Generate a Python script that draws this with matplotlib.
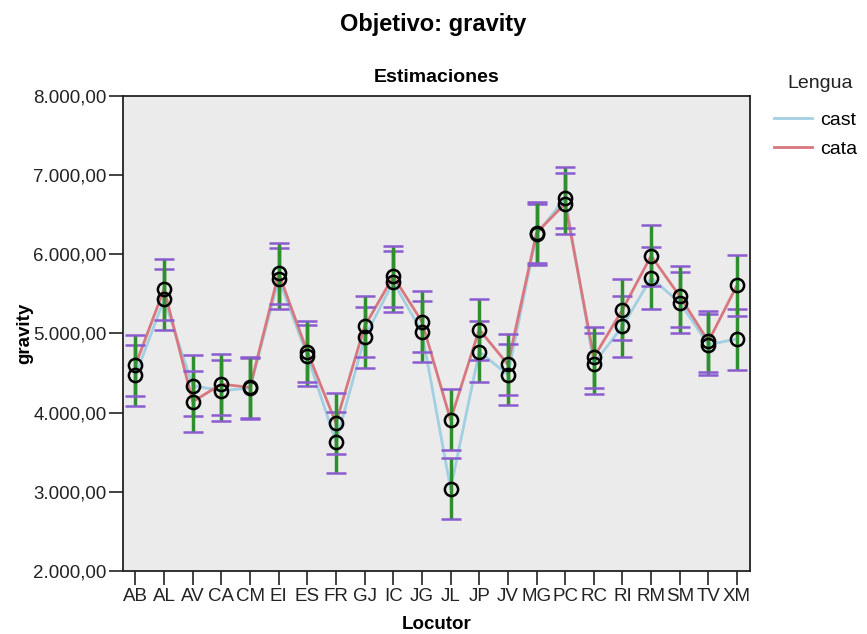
import numpy as np
import matplotlib
matplotlib.use("Agg")
import matplotlib.pyplot as plt
from matplotlib.ticker import FuncFormatter

plt.rcParams['font.family'] = ['Liberation Sans', 'DejaVu Sans']

# medias estimadas por locutor y lengua
locutores = ["AB", "AL", "AV", "CA", "CM", "EI", "ES", "FR", "GJ", "IC", "JG",
             "JL", "JP", "JV", "MG", "PC", "RC", "RI", "RM", "SM", "TV", "XM"]
cast = [4470, 5430, 4340, 4280, 4310, 5690, 4720, 3630, 4950, 5650, 5020,
        3040, 4770, 4480, 6250, 6710, 4620, 5090, 5700, 5390, 4860, 4930]
cata = [4600, 5560, 4140, 4360, 4320, 5760, 4770, 3870, 5090, 5720, 5150,
        3910, 5050, 4610, 6270, 6640, 4700, 5300, 5980, 5470, 4900, 5610]
# semiamplitud del intervalo de confianza
ic_cast = [385] * len(locutores)
ic_cata = [385] * len(locutores)
yticks = [2000, 3000, 4000, 5000, 6000, 7000, 8000]

col_cast = "#a3cfe2"
col_cata = "#d7777e"
col_barra = "#2f8f2f"
col_tope = "#8a5ccf"


def fmt_es(v, pos):
    s = "{:,.2f}".format(v)
    return s.replace(",", "X").replace(".", ",").replace("X", ".")


fig = plt.figure(figsize=(8.67, 6.34), dpi=100)
ax = fig.add_axes([0.142, 0.099, 0.723, 0.750])
ax.set_facecolor("#ebebeb")

x = np.arange(len(locutores))

ax.plot(x, cast, color=col_cast, lw=2, zorder=2, label="cast")
ax.plot(x, cata, color=col_cata, lw=2, zorder=2, label="cata")

for medias, ic in [(cast, ic_cast), (cata, ic_cata)]:
    eb = ax.errorbar(x, medias, yerr=ic, fmt="none", ecolor=col_barra,
                     elinewidth=2.5, capsize=7, capthick=1.8, zorder=3)
    for cap in eb[1]:
        cap.set_markeredgecolor(col_tope)
        cap.set_markerfacecolor(col_tope)
    ax.plot(x, medias, ls="none", marker="o", ms=9.5, mfc="none",
            mec="black", mew=1.8, zorder=4)

ax.set_xlim(-0.43, 21.45)
ax.set_ylim(2000, 8000)
ax.set_xticks(x)
ax.set_xticklabels(locutores)
ax.set_yticks(yticks)
ax.yaxis.set_major_formatter(FuncFormatter(fmt_es))
ax.tick_params(axis="both", length=10, width=1.2, labelsize=13.5,
               colors="#222222", pad=2)

for sp in ax.spines.values():
    sp.set_linewidth(1.3)
    sp.set_color("#222222")

ax.set_xlabel("Locutor", fontsize=13.5, fontweight="bold", labelpad=8)
ax.set_ylabel("gravity", fontsize=13.5, fontweight="bold", labelpad=0)
ax.set_title("Estimaciones", fontsize=14, fontweight="bold", pad=10)
fig.text(0.5, 0.962, "Objetivo: gravity", ha="center", va="center",
         fontsize=17, fontweight="bold")

# leyenda: título aparte para controlar la separación
fig.text(0.946, 0.868, "Lengua", ha="center", va="center", fontsize=14,
         color="#222222")
leg = fig.legend(loc="upper left", bbox_to_anchor=(0.893, 0.824),
                 frameon=False, fontsize=14, handlelength=1.95,
                 handletextpad=0.4, labelspacing=0.55, borderpad=0,
                 borderaxespad=0)

fig.savefig("out.png", dpi=100)
